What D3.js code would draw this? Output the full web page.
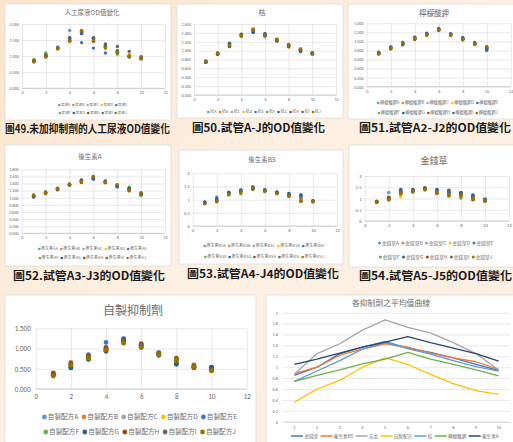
<!DOCTYPE html>
<html><head><meta charset="utf-8">
<script src="https://cdn.jsdelivr.net/npm/d3@7/dist/d3.min.js"></script>
<style>
body{margin:0;overflow:hidden;background:#fcefe1;}
svg{display:block;font-family:"Noto Sans CJK TC","Noto Sans",sans-serif;}
</style>
</head><body>
<svg id="c" width="513" height="442"></svg>
<script>
// ---------- DATA ----------
const letters = ["A","B","C","D","E","F","G","H","I","J"];
const timePoints = [1,2,3,4,5,6,7,8,9,10];
const seriesColors = ["#5B9BD5","#ED7D31","#A5A5A5","#FFC000","#4472C4","#70AD47","#255E91","#9E480E","#636363","#997300"];

const urineValues = [
  [0.86,1.02,1.26,1.80,1.75,1.52,1.30,1.15,1.02,0.95],
  [0.84,1.00,1.25,1.50,1.76,1.48,1.28,1.12,1.00,0.93],
  [0.88,1.07,1.28,1.56,1.72,1.55,1.33,1.18,1.05,0.97],
  [0.85,1.01,1.24,1.52,1.78,1.50,1.30,1.14,1.03,0.95],
  [0.87,1.03,1.27,1.58,1.42,1.25,1.10,1.10,0.98,0.92],
  [0.90,1.10,1.26,1.54,1.74,1.50,1.27,1.06,0.97,0.94],
  [0.85,1.00,1.24,1.48,1.70,1.56,1.35,1.16,1.00,0.96],
  [0.83,0.98,1.23,1.47,1.77,1.46,1.25,1.12,0.99,0.92],
  [0.86,1.04,1.27,1.55,1.73,1.58,1.38,1.30,1.15,0.98],
  [0.82,0.97,1.23,1.46,1.80,1.47,1.26,1.13,1.01,0.95]
];
const tangerineValues = [
  [0.76,0.94,1.17,1.36,1.49,1.38,1.25,1.12,1.03,0.95],
  [0.74,0.92,1.10,1.33,1.45,1.36,1.23,1.08,1.01,0.93],
  [0.75,0.93,1.14,1.35,1.44,1.33,1.22,1.10,1.00,0.92],
  [0.76,0.94,1.12,1.32,1.47,1.35,1.24,1.13,1.02,0.94],
  [0.73,0.92,1.15,1.36,1.42,1.37,1.21,1.12,0.99,0.93],
  [0.74,0.93,1.11,1.34,1.46,1.31,1.23,1.10,1.01,0.92],
  [0.75,0.94,1.16,1.37,1.41,1.38,1.24,1.14,0.98,0.94],
  [0.76,0.92,1.13,1.33,1.48,1.35,1.26,1.09,1.03,0.95],
  [0.74,0.95,1.09,1.35,1.45,1.34,1.22,1.11,1.02,0.93],
  [0.77,0.93,1.12,1.34,1.47,1.36,1.25,1.13,1.04,0.96]
];
const citrateValues = [
  [0.75,0.87,0.97,1.10,1.17,1.29,1.17,1.09,0.97,0.82],
  [0.73,0.84,0.95,1.06,1.15,1.26,1.15,1.05,0.95,0.86],
  [0.74,0.86,0.93,1.08,1.16,1.25,1.14,1.06,0.96,0.85],
  [0.72,0.85,0.96,1.05,1.14,1.27,1.16,1.04,0.94,0.88],
  [0.76,0.88,0.98,1.09,1.18,1.28,1.17,1.08,0.97,0.80],
  [0.73,0.83,0.92,1.04,1.13,1.24,1.13,1.03,0.93,0.87],
  [0.74,0.87,0.94,1.07,1.17,1.26,1.15,1.07,0.96,0.83],
  [0.72,0.84,0.96,1.05,1.15,1.25,1.14,1.05,0.95,0.86],
  [0.75,0.86,0.95,1.08,1.16,1.27,1.16,1.06,0.94,0.84],
  [0.73,0.85,0.97,1.06,1.14,1.25,1.15,1.04,0.95,0.89]
];
const postbioticAValues = [
  [1.03,1.14,1.25,1.38,1.48,1.52,1.45,1.30,1.22,1.12],
  [1.06,1.13,1.24,1.37,1.45,1.57,1.44,1.33,1.25,1.10],
  [1.04,1.15,1.26,1.36,1.47,1.55,1.46,1.35,1.24,1.11],
  [1.07,1.12,1.23,1.38,1.44,1.58,1.43,1.34,1.26,1.13],
  [1.02,1.14,1.22,1.39,1.49,1.53,1.46,1.31,1.23,1.09],
  [1.05,1.13,1.27,1.35,1.46,1.56,1.44,1.36,1.30,1.06],
  [1.03,1.16,1.25,1.37,1.50,1.54,1.47,1.32,1.27,1.12],
  [1.06,1.12,1.24,1.36,1.43,1.59,1.42,1.35,1.21,1.10],
  [1.04,1.15,1.26,1.38,1.47,1.56,1.45,1.33,1.24,1.11],
  [1.08,1.13,1.25,1.37,1.45,1.60,1.44,1.37,1.19,1.14]
];
const postbioticB5Values = [
  [0.90,1.10,1.27,1.36,1.45,1.37,1.28,1.23,1.20,0.95],
  [0.87,0.95,1.20,1.30,1.42,1.35,1.25,1.15,0.97,0.93],
  [0.88,0.98,1.22,1.32,1.43,1.33,1.26,1.18,1.05,0.94],
  [0.86,0.96,1.19,1.28,1.40,1.36,1.24,1.14,0.98,0.92],
  [0.89,1.05,1.26,1.35,1.46,1.38,1.27,1.22,1.17,0.96],
  [0.85,0.94,1.18,1.22,1.38,1.30,1.22,1.12,1.02,0.93],
  [0.91,1.02,1.28,1.37,1.47,1.36,1.29,1.24,1.15,0.95],
  [0.86,0.93,1.21,1.29,1.41,1.34,1.25,1.16,0.95,0.94],
  [0.88,0.97,1.25,1.33,1.44,1.37,1.27,1.20,1.10,0.93],
  [0.84,0.92,1.19,1.27,1.49,1.32,1.23,1.13,0.93,0.92]
];
const moneywortValues = [
  [0.86,1.27,1.35,1.38,1.45,1.38,1.30,1.25,1.12,0.96],
  [0.84,0.98,1.22,1.32,1.40,1.28,1.20,1.10,1.00,0.90],
  [0.85,1.00,1.25,1.35,1.42,1.30,1.25,1.15,1.05,0.92],
  [0.83,0.95,1.08,1.30,1.38,1.26,1.15,1.05,0.98,0.89],
  [0.87,1.02,1.30,1.36,1.44,1.35,1.28,1.20,1.10,0.95],
  [0.84,0.96,1.20,1.28,1.41,1.27,1.10,1.02,0.96,0.90],
  [0.86,1.03,1.40,1.40,1.46,1.40,1.37,1.27,1.15,0.97],
  [0.85,1.05,1.24,1.33,1.43,1.22,1.18,1.18,0.95,0.88],
  [0.86,0.99,1.32,1.37,1.47,1.36,1.33,1.22,1.08,0.93],
  [0.83,0.94,1.21,1.31,1.39,1.25,1.16,1.12,0.99,0.91]
];
const homemadeValues = [
  [0.35,0.55,0.78,0.98,1.25,1.05,0.86,0.65,0.55,0.52],
  [0.38,0.62,0.80,1.00,1.20,1.08,0.88,0.72,0.56,0.48],
  [0.34,0.57,0.75,0.95,1.15,1.04,0.85,0.68,0.54,0.47],
  [0.33,0.56,0.77,1.02,1.18,1.06,0.87,0.70,0.57,0.49],
  [0.36,0.53,0.85,1.15,1.22,1.10,0.84,0.62,0.53,0.53],
  [0.37,0.58,0.72,0.97,1.13,1.02,0.82,0.66,0.60,0.50],
  [0.35,0.52,0.74,0.93,1.17,1.07,0.85,0.61,0.52,0.54],
  [0.40,0.65,0.82,1.03,1.23,1.12,0.90,0.76,0.57,0.46],
  [0.34,0.60,0.79,0.99,1.19,1.09,0.89,0.74,0.55,0.48],
  [0.32,0.59,0.76,0.96,1.14,1.03,0.86,0.71,0.53,0.45]
];

// average curves
const averageNames = ["金錢草","後生素B5","苦瓜","自製配方","桔","檸檬酸鉀","後生素A"];
const averageColors = ["#4472C4","#ED7D31","#A5A5A5","#FFC000","#5B9BD5","#70AD47","#264478"];
const averageValues = [
  [0.85,1.00,1.25,1.37,1.47,1.35,1.27,1.17,1.05,0.94],
  [0.88,1.00,1.22,1.33,1.43,1.37,1.26,1.17,1.10,0.96],
  [0.87,1.25,1.43,1.68,1.87,1.73,1.63,1.45,1.25,0.95],
  [0.36,0.60,0.76,1.00,1.17,1.05,0.87,0.70,0.57,0.50],
  [0.74,0.93,1.12,1.33,1.45,1.34,1.24,1.12,1.01,0.93],
  [0.74,0.85,0.95,1.06,1.15,1.27,1.15,1.05,0.95,0.84],
  [1.05,1.15,1.26,1.37,1.46,1.56,1.45,1.35,1.25,1.11]
];

// ---------- DRAWING ----------
const svg = d3.select("#c");
const defs = svg.append("defs");
const grad = defs.append("linearGradient").attr("id","bg").attr("x1","0").attr("y1","0").attr("x2","1").attr("y2","1");
grad.append("stop").attr("offset","0").attr("stop-color","#fbe5cc");
grad.append("stop").attr("offset","0.5").attr("stop-color","#fdf1e4");
grad.append("stop").attr("offset","1").attr("stop-color","#fcefe2");
svg.append("rect").attr("width",513).attr("height",442).attr("fill","url(#bg)");

const TXT = "#6a6a6a", GRID = "#d9d9d9";

function legendRow(g, items, colors, cx, y, fs, r, kind) {
  const row = g.append("g");
  let xp = 0;
  items.forEach((t,i)=>{
    if (kind === "line") {
      row.append("line").attr("x1",xp).attr("x2",xp+fs*2.6).attr("y1",0).attr("y2",0)
        .attr("stroke",colors[i]).attr("stroke-width",1.5);
      xp += fs*2.6 + fs*0.3;
    } else {
      row.append("circle").attr("cx",xp+r).attr("cy",0).attr("r",r).attr("fill",colors[i]);
      xp += 2*r + fs*0.15;
    }
    const tx = row.append("text").attr("x",xp).attr("y",0).attr("dy","0.35em")
      .style("font-size",fs+"px").attr("fill",TXT).text(t);
    xp += tx.node().getComputedTextLength() + fs*0.5;
  });
  row.attr("transform",`translate(${cx - xp/2},${y})`);
}

function scatterChart(c) {
  const g = svg.append("g");
  g.append("rect").attr("x",c.box[0]).attr("y",c.box[1]).attr("width",c.box[2]).attr("height",c.box[3])
    .attr("fill","#fff").attr("stroke","#dcdcdc").attr("stroke-width",0.8);
  const x = d3.scaleLinear().domain([0,12]).range([c.l,c.r]);
  const y = d3.scaleLinear().domain([0,c.ymax]).range([c.b,c.t]);
  const yt = d3.range(0, c.ymax + c.step/2, c.step);
  const ax = g.append("g").attr("transform",`translate(${c.l},0)`)
    .call(d3.axisLeft(y).tickValues(yt).tickFormat(c.fmt).tickSize(-(c.r-c.l)).tickPadding(c.pad));
  ax.select(".domain").remove();
  ax.selectAll("line").attr("stroke",GRID).attr("stroke-width",0.6);
  ax.selectAll("text").attr("fill",TXT).style("font-size",c.tfs+"px").style("font-family","Calibri,'Liberation Sans',sans-serif");
  const bx = g.append("g").attr("transform",`translate(0,${c.b})`)
    .call(d3.axisBottom(x).tickValues([0,2,4,6,8,10,12]).tickFormat(d3.format("d")).tickSize(-(c.b-c.t)).tickPadding(c.pad));
  bx.select(".domain").remove();
  bx.selectAll("line").attr("stroke",GRID).attr("stroke-width",0.6);
  bx.selectAll("text").attr("fill",TXT).style("font-size",c.tfs+"px").style("font-family","Calibri,'Liberation Sans',sans-serif");
  g.append("line").attr("x1",c.l).attr("x2",c.r).attr("y1",c.b).attr("y2",c.b).attr("stroke","#bfbfbf").attr("stroke-width",0.7);
  c.data.forEach((s,i)=>{
    g.append("g").selectAll("circle").data(s).join("circle")
      .attr("cx",(d,j)=>x(timePoints[j])).attr("cy",d=>y(d)).attr("r",c.mr).attr("fill",seriesColors[i]);
  });
  g.append("text").attr("x",c.tx).attr("y",c.ty).attr("text-anchor","middle").attr("dy","0.35em")
    .style("font-size",c.titleFs+"px").attr("fill",TXT).text(c.title);
  const names = letters.map(l=>c.prefix+l);
  if (c.legendRows.length === 1) {
    legendRow(g, names, seriesColors, (c.l+c.r)/2, c.legendRows[0], c.lfs, c.lr);
  } else {
    legendRow(g, names.slice(0,5), seriesColors.slice(0,5), (c.l+c.r)/2, c.legendRows[0], c.lfs, c.lr);
    legendRow(g, names.slice(5), seriesColors.slice(5), (c.l+c.r)/2, c.legendRows[1], c.lfs, c.lr);
  }
  if (c.caption) {
    g.append("text").attr("x",c.caption[0]).attr("y",c.caption[2]).attr("dy","0.35em")
      .attr("textLength",c.caption[1]).attr("lengthAdjust","spacingAndGlyphs")
      .style("font-size","11px").style("font-weight","bold").attr("fill","#1a1a1a").text(c.caption[3]);
  }
}

const f3 = d3.format(".3f");
const fg = d3.format("");

scatterChart({box:[5,4,166,116], l:22,r:165,t:24,b:88.3, ymax:2, step:0.5, fmt:f3, tfs:4.2, pad:3,
  data:urineValues, mr:1.7, title:"人工尿液OD值變化", tx:92, ty:13, titleFs:6.5,
  prefix:"尿液", legendRows:[105,113], lfs:3.6, lr:1.2,
  caption:[5,165,129,"圖49.未加抑制劑的人工尿液OD值變化"]});
scatterChart({box:[177,4,166,114], l:194,r:336,t:24,b:95, ymax:1.6, step:0.2, fmt:f3, tfs:4.2, pad:3,
  data:tangerineValues, mr:1.7, title:"桔", tx:262, ty:13, titleFs:7,
  prefix:"桔", legendRows:[112], lfs:4, lr:1.3,
  caption:[192,133,128,"圖50.試管A-J的OD值變化"]});
scatterChart({box:[348,4,170,115], l:366.7,r:510.7,t:23.3,b:86.7, ymax:1.4, step:0.2, fmt:f3, tfs:4.2, pad:3,
  data:citrateValues, mr:1.7, title:"檸檬酸鉀", tx:434, ty:13, titleFs:7.5,
  prefix:"檸檬酸鉀", legendRows:[103,113], lfs:4.2, lr:1.3,
  caption:[359,152,128,"圖51.試管A2-J2的OD值變化"]});
scatterChart({box:[5,145,166,121], l:21.7,r:165,t:169.3,b:233.3, ymax:1.8, step:0.2, fmt:f3, tfs:4.2, pad:3,
  data:postbioticAValues, mr:1.7, title:"後生素A", tx:90, ty:157, titleFs:6.5,
  prefix:"後生素A", legendRows:[249,258], lfs:4, lr:1.3,
  caption:[13,152,276,"圖52.試管A3-J3的OD值變化"]});
scatterChart({box:[179,150,164,114], l:192.7,r:337,t:173.3,b:226, ymax:2, step:0.5, fmt:fg, tfs:4.5, pad:3,
  data:postbioticB5Values, mr:1.7, title:"後生素B5", tx:262, ty:160, titleFs:6.5,
  prefix:"後生素B5", legendRows:[246,257], lfs:4, lr:1.3,
  caption:[187,152,274,"圖53.試管A4-J4的OD值變化"]});
scatterChart({box:[349,145,170,122], l:364.7,r:509,t:176,b:221, ymax:2, step:0.5, fmt:fg, tfs:4.8, pad:3,
  data:moneywortValues, mr:1.8, title:"金錢草", tx:434, ty:161, titleFs:9,
  prefix:"金錢草", legendRows:[243,257], lfs:4.8, lr:1.5,
  caption:[359,153,276,"圖54.試管A5-J5的OD值變化"]});
scatterChart({box:[5,295,251,150], l:35.7,r:246.7,t:328.3,b:389, ymax:1.5, step:0.5, fmt:f3, tfs:7, pad:5,
  data:homemadeValues, mr:2.4, title:"自製抑制劑", tx:133, ty:311, titleFs:12,
  prefix:"自製配方", legendRows:[417,432], lfs:6.6, lr:2.4,
  caption:null});

// ---------- average line chart ----------
(function(){
  const g = svg.append("g");
  g.append("rect").attr("x",266).attr("y",295).attr("width",250).attr("height",150)
    .attr("fill","#fff").attr("stroke","#dcdcdc").attr("stroke-width",0.8);
  const L=283, R=510, T=312.7, B=421.7;
  const x = d3.scaleBand().domain(timePoints).range([L,R]);
  const y = d3.scaleLinear().domain([0,2]).range([B,T]);
  const ax = g.append("g").attr("transform",`translate(${L},0)`)
    .call(d3.axisLeft(y).tickValues(d3.range(0,2.01,0.2)).tickFormat(d=>d3.format("~g")(+d.toFixed(1))).tickSize(-(R-L)).tickPadding(5));
  ax.select(".domain").remove();
  ax.selectAll("line").attr("stroke",GRID).attr("stroke-width",0.6);
  ax.selectAll("text").attr("fill",TXT).style("font-size","4.3px").style("font-family","Calibri,'Liberation Sans',sans-serif");
  const bx = g.append("g").attr("transform",`translate(0,${B})`)
    .call(d3.axisBottom(x).tickSize(0).tickPadding(4));
  bx.select(".domain").attr("stroke","#d0d0d0").attr("stroke-width",0.7);
  bx.selectAll("text").attr("fill",TXT).style("font-size","4.3px").style("font-family","Calibri,'Liberation Sans',sans-serif");
  const line = d3.line().x((d,j)=>x(timePoints[j])+x.bandwidth()/2).y(d=>y(d));
  averageValues.forEach((s,i)=>{
    g.append("path").datum(s).attr("d",line).attr("fill","none")
      .attr("stroke",averageColors[i]).attr("stroke-width",1.3).attr("stroke-linejoin","round");
  });
  g.append("text").attr("x",391).attr("y",303).attr("text-anchor","middle").attr("dy","0.35em")
    .style("font-size","7.8px").attr("fill",TXT).text("各抑制劑之平均值曲線");
  legendRow(g, averageNames, averageColors, 396, 436, 4.6, 0, "line");
})();
</script>
</body></html>
